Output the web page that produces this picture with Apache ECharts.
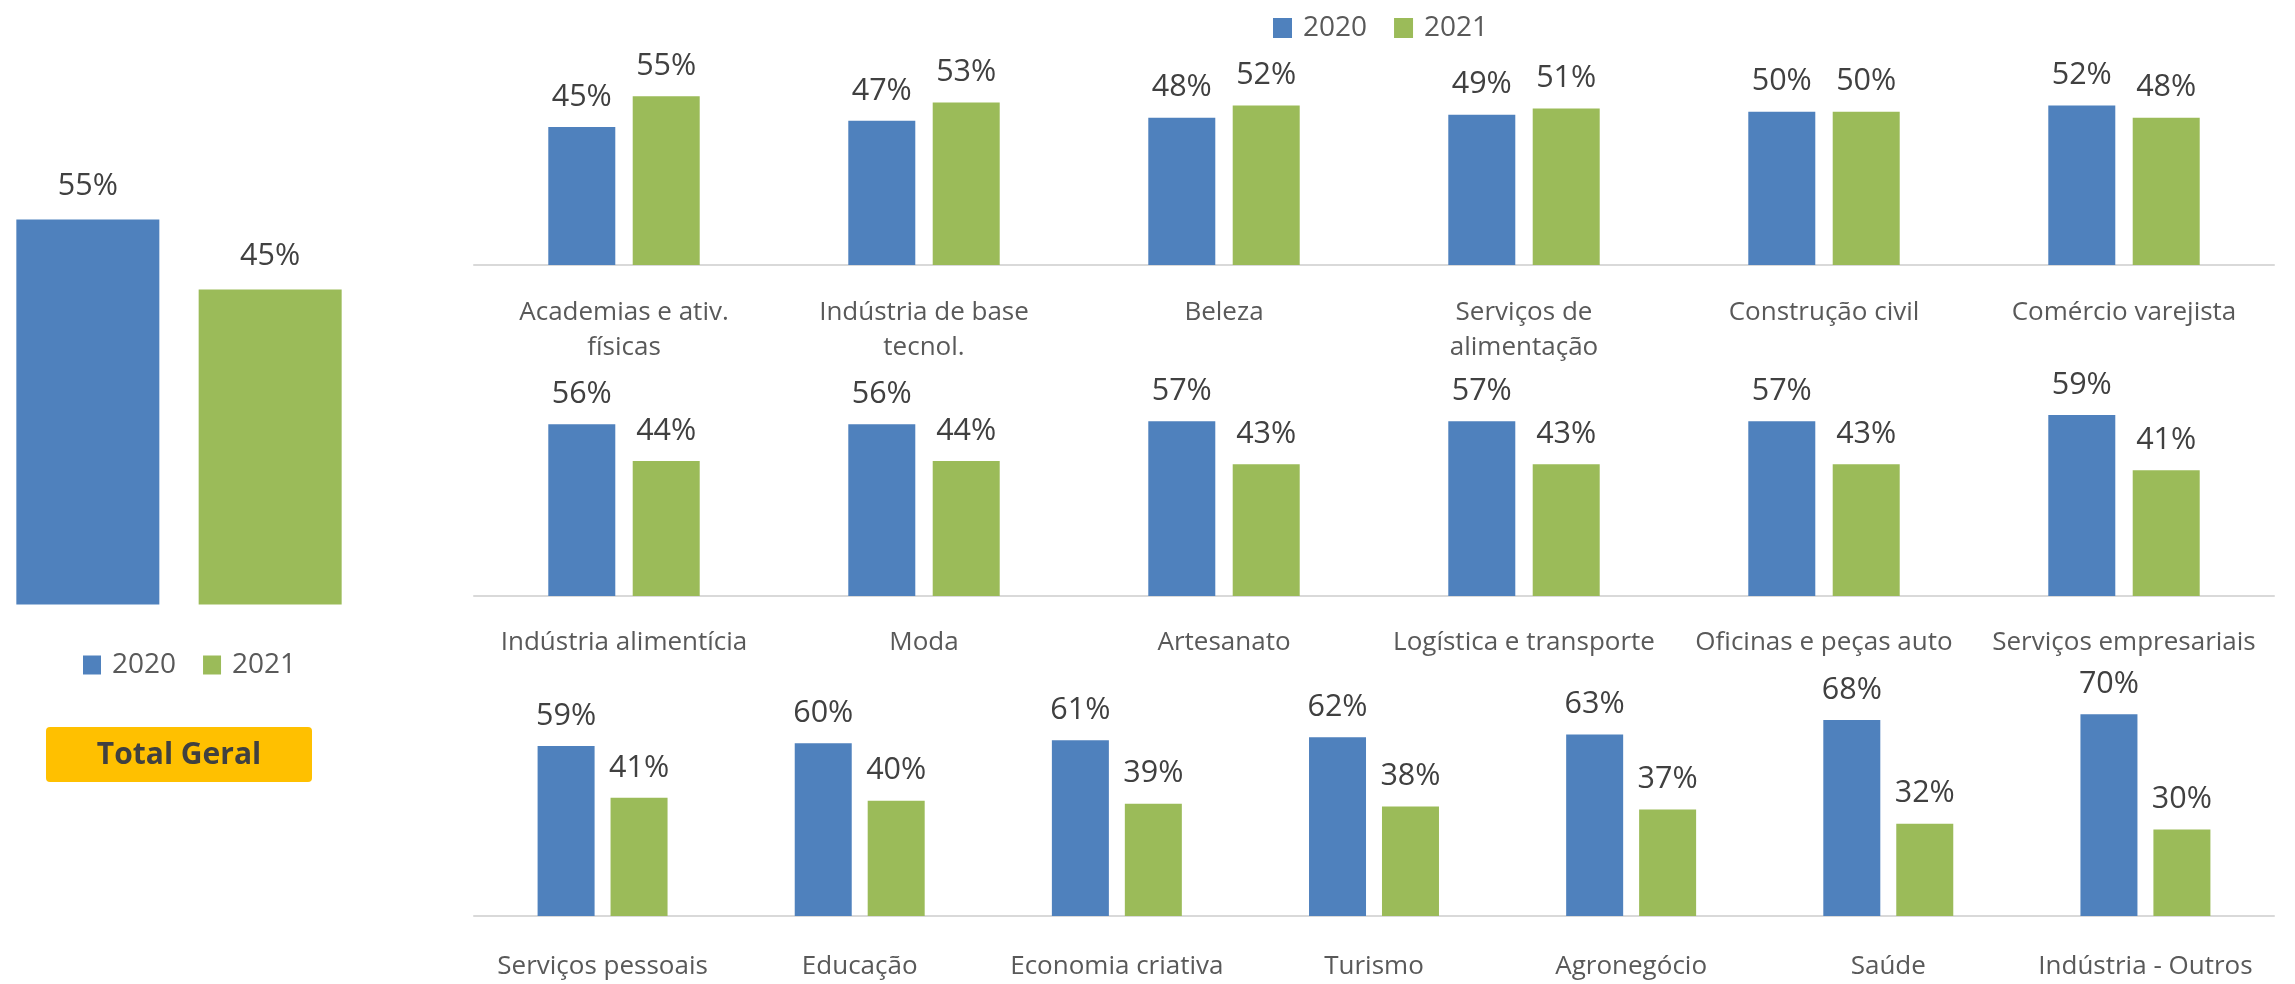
<!DOCTYPE html>
<html lang="pt">
<head>
	<meta charset="UTF-8">
	<title>2020 x 2021</title>
	<style>
		html, body { margin: 0; padding: 0; background: #fff; }
		#box { width: 2295px; height: 984px; }
	</style>
</head>
<body>

	<div id="box"></div>

	<script src="https://cdn.jsdelivr.net/npm/echarts@6/dist/echarts.min.js"></script>
	<script>

		// dados
		var seriesNames = ['2020', '2021'];

		var totalCats = ['Total Geral'];
		var total2020 = [55];
		var total2021 = [45];

		var row1Cats = ['Academias e ativ.\nfísicas', 'Indústria de base\ntecnol.', 'Beleza', 'Serviços de\nalimentação', 'Construção civil', 'Comércio varejista'];
		var row1_2020 = [45, 47, 48, 49, 50, 52];
		var row1_2021 = [55, 53, 52, 51, 50, 48];

		var row2Cats = ['Indústria alimentícia', 'Moda', 'Artesanato', 'Logística e transporte', 'Oficinas e peças auto', 'Serviços empresariais'];
		var row2_2020 = [56, 56, 57, 57, 57, 59];
		var row2_2021 = [44, 44, 43, 43, 43, 41];

		var row3Cats = ['Serviços pessoais', 'Educação', 'Economia criativa', 'Turismo', 'Agronegócio', 'Saúde', 'Indústria - Outros'];
		var row3_2020 = [59, 60, 61, 62, 63, 68, 70];
		var row3_2021 = [41, 40, 39, 38, 37, 32, 30];

		var BLUE = '#4F81BD';
		var GREEN = '#9BBB59';
		var FONT = 'Open Sans';

		var myChart = echarts.init(document.getElementById('box'));

		function xAx(idx, cats, showLine, margin) {
			return {
				type: 'category',
				gridIndex: idx,
				data: cats,
				axisTick: { show: false },
				axisLine: { show: showLine, lineStyle: { color: '#D9D9D9', width: 2 } },
				axisLabel: {
					show: showLine,
					interval: 0,
					margin: margin,
					fontFamily: FONT,
					fontSize: 26,
					lineHeight: 35,
					color: '#595959'
				}
			};
		}

		function yAx(idx, max) {
			return {
				type: 'value',
				gridIndex: idx,
				min: 0,
				max: max,
				show: false,
				splitLine: { show: false }
			};
		}

		function bar(name, idx, data, color, width, gap, dist) {
			return {
				name: name,
				type: 'bar',
				xAxisIndex: idx,
				yAxisIndex: idx,
				data: data,
				barWidth: width,
				barGap: gap,
				itemStyle: { color: color },
				label: {
					show: true,
					position: 'top',
					distance: dist,
					formatter: '{c}%',
					fontFamily: FONT,
					fontSize: 30.5,
					lineHeight: 30,
					color: '#404040'
				}
			};
		}

		var legendText = { fontFamily: FONT, fontSize: 28, color: '#595959', padding: [0, 0, 0, 6] };

		var option = {
			animation: false,
			legend: [{
				data: seriesNames,
				left: 1273,
				top: 14,
				padding: 0,
				icon: 'rect',
				itemWidth: 19,
				itemHeight: 20,
				itemGap: 27,
				textStyle: legendText
			}, {
				data: seriesNames,
				left: 83,
				top: 651,
				padding: 0,
				icon: 'rect',
				itemWidth: 18,
				itemHeight: 19,
				itemGap: 27,
				textStyle: legendText
			}],
			graphic: [{
				type: 'group',
				left: 46,
				top: 727,
				children: [{
					type: 'rect',
					shape: { x: 0, y: 0, width: 266, height: 55, r: 4 },
					style: { fill: '#FFC000' }
				}, {
					type: 'text',
					x: 133,
					y: 28,
					style: {
						text: totalCats[0],
						fontFamily: FONT,
						fontSize: 30,
						fontWeight: 'bold',
						fill: '#404040',
						align: 'center',
						verticalAlign: 'middle'
					}
				}]
			}],
			grid: [
				{ left: 0, width: 358, top: 184.5, height: 420 },
				{ left: 474, width: 1800, top: 81, height: 184 },
				{ left: 474, width: 1800, top: 412, height: 184 },
				{ left: 474, width: 1800, top: 685.5, height: 238 }
			],
			xAxis: [
				xAx(0, totalCats, false, 28),
				xAx(1, row1Cats, true, 30),
				xAx(2, row2Cats, true, 29),
				xAx(3, row3Cats, true, 33)
			],
			yAxis: [
				yAx(0, 60),
				yAx(1, 60),
				yAx(2, 60),
				yAx(3, 80)
			],
			series: [
				bar(seriesNames[0], 0, total2020, BLUE, 143, '27.5%', 18),
				bar(seriesNames[1], 0, total2021, GREEN, 143, '27.5%', 18),
				bar(seriesNames[0], 1, row1_2020, BLUE, 67, '26%', 15),
				bar(seriesNames[1], 1, row1_2021, GREEN, 67, '26%', 15),
				bar(seriesNames[0], 2, row2_2020, BLUE, 67, '26%', 15),
				bar(seriesNames[1], 2, row2_2021, GREEN, 67, '26%', 15),
				bar(seriesNames[0], 3, row3_2020, BLUE, 57, '28%', 15),
				bar(seriesNames[1], 3, row3_2021, GREEN, 57, '28%', 15)
			]
		};

		myChart.setOption(option);

	</script>
</body>
</html>
